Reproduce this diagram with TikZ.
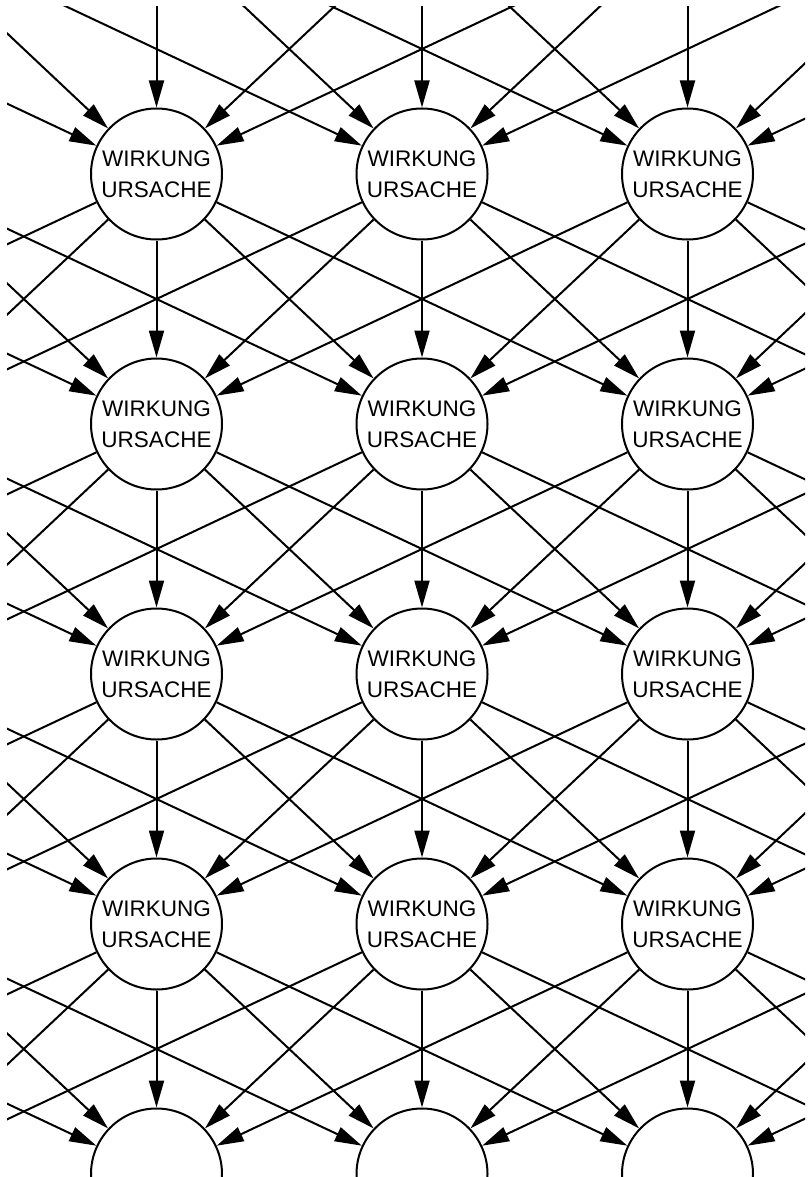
\documentclass[tikz,border=0pt]{standalone}
\usepackage{fontspec}
\setmainfont{Liberation Sans}
\usetikzlibrary{arrows.meta}

\begin{document}
\begin{tikzpicture}[
    x=0.75pt, y=-0.75pt,
    cell/.style={circle, draw=black, fill=white, line width=1.5pt, minimum size=98.25pt, inner sep=0pt, align=center, font=\fontsize{16.9}{23.6}\selectfont},
    link/.style={line width=1.5pt, -{Triangle[length=20.25pt, width=11.25pt]}}
]

% Rahmen
\useasboundingbox (0,0) rectangle (808,1177);
\clip (7,7) rectangle (805,1177);

% Knoten: nur die sichtbaren tragen Text
\foreach \i in {0,...,5}{
  \foreach \j in {0,...,6}{
    \def\celltext{}
    \ifnum\i>0 \ifnum\i<5 \ifnum\j>1 \ifnum\j<5
      \def\celltext{WIRKUNG\\URSACHE}
    \fi\fi\fi\fi
    \node[cell] (n\i\j) at ({-374.5+265.5*\j}, {-76+250*\i}) {\celltext};
  }
}

% oberste Reihe: nur Pfeile in die sichtbaren Knoten
\foreach \j in {0,...,6}{
  \foreach \tcol in {2,3,4}{
    \pgfmathtruncatemacro{\dist}{abs(\j-\tcol)}
    \ifnum\dist<3
      \draw[link] (n0\j) -- (n1\tcol);
    \fi
  }
}

% Verbindungen: jeder Knoten wirkt auf fuenf Knoten der naechsten Reihe
\foreach \i [evaluate=\i as \nexti using int(\i+1)] in {1,...,4}{
  \foreach \j in {0,...,6}{
    \foreach \dc in {-2,...,2}{
      \pgfmathtruncatemacro{\tcol}{\j+\dc}
      \ifnum\tcol>-1 \ifnum\tcol<7
        \draw[link] (n\i\j) -- (n\nexti\tcol);
      \fi\fi
    }
  }
}

\end{tikzpicture}
\end{document}
